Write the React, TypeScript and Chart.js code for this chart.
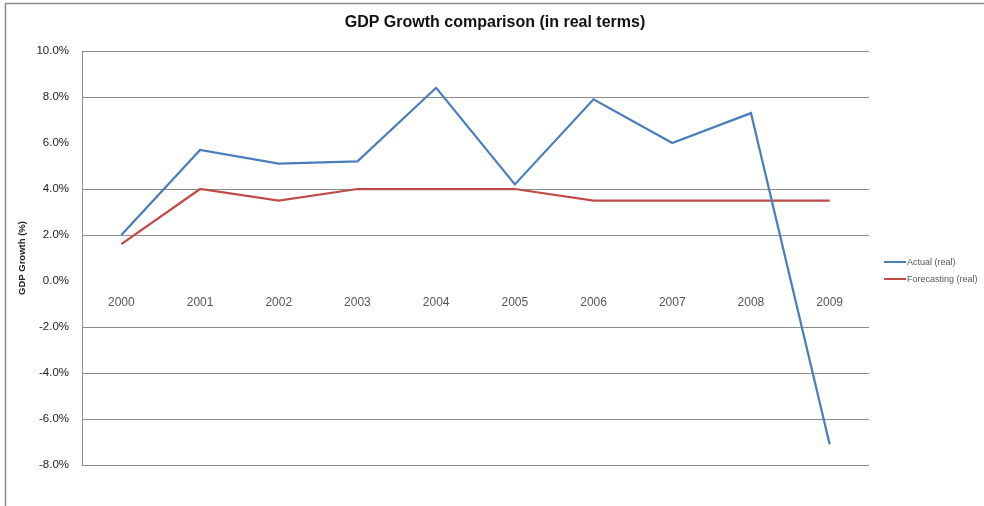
import React, { useEffect, useRef } from "react";
import { Chart, registerables } from "chart.js";

Chart.register(...registerables);

const chartTitle = "GDP Growth comparison (in real terms)";
const yAxisTitle = "GDP Growth (%)";
const categories = ["2000", "2001", "2002", "2003", "2004", "2005", "2006", "2007", "2008", "2009"];
const seriesNames = ["Actual (real)", "Forecasting (real)"];
const actual = [2.0, 5.7, 5.1, 5.2, 8.4, 4.2, 7.9, 6.0, 7.3, -7.1];
const forecast = [1.6, 4.0, 3.5, 4.0, 4.0, 4.0, 3.5, 3.5, 3.5, 3.5];
const yTickValues = [-8, -6, -4, -2, 0, 2, 4, 6, 8, 10];
const yTickLabels = ["-8.0%", "-6.0%", "-4.0%", "-2.0%", "0.0%", "2.0%", "4.0%", "6.0%", "8.0%", "10.0%"];
const hiddenGridValues = [6, 0];
const seriesColors = ["#4a7ebb", "#be4b48"];

const FONT = "'Liberation Sans', Arial, sans-serif";

const decorPlugin = {
  id: "decor",
  afterDraw(chart: any) {
    const ctx = chart.ctx;
    ctx.save();
    // outer border (top & left)
    ctx.strokeStyle = "#8a8a8a";
    ctx.lineWidth = 1.5;
    ctx.beginPath();
    ctx.moveTo(5.5, 506);
    ctx.lineTo(5.5, 3.5);
    ctx.lineTo(984, 3.5);
    ctx.stroke();
    // title
    ctx.fillStyle = "#111";
    ctx.font = `bold 16px ${FONT}`;
    ctx.textAlign = "center";
    ctx.textBaseline = "middle";
    ctx.fillText(chartTitle, 495, 23);
    // legend
    const ys = [262, 279];
    ctx.textAlign = "left";
    ctx.font = `9px ${FONT}`;
    chart.data.datasets.forEach((ds: any, i: number) => {
      ctx.strokeStyle = ds.borderColor;
      ctx.lineWidth = 2;
      ctx.beginPath();
      ctx.moveTo(884, ys[i]);
      ctx.lineTo(906, ys[i]);
      ctx.stroke();
      ctx.fillStyle = "#555";
      ctx.fillText(ds.label, 907, ys[i] + 0.5);
    });
    ctx.restore();
  },
};

export default function App() {
  const ref = useRef<HTMLCanvasElement>(null);
  useEffect(() => {
    if (!ref.current) return;
    const chart = new Chart(ref.current, {
      type: "line",
      data: {
        labels: categories,
        datasets: [
          {
            label: seriesNames[0],
            data: actual,
            borderColor: seriesColors[0],
            backgroundColor: seriesColors[0],
            borderWidth: 2.25,
            pointRadius: 0,
            tension: 0,
          },
          {
            label: seriesNames[1],
            data: forecast,
            borderColor: seriesColors[1],
            backgroundColor: seriesColors[1],
            borderWidth: 2.25,
            pointRadius: 0,
            tension: 0,
          },
        ],
      },
      options: {
        responsive: false,
        animation: false,
        layout: { padding: { top: 51, right: 115, bottom: 41, left: 0 } },
        plugins: {
          legend: { display: false },
          title: { display: false },
          tooltip: { enabled: false },
        },
        scales: {
          x: {
            type: "category",
            position: { y: 0 } as any,
            offset: true,
            grid: { display: false, drawTicks: false },
            border: { display: false },
            ticks: {
              color: "#555",
              font: { family: FONT, size: 12 },
              padding: 14,
              maxRotation: 0,
              autoSkip: false,
            },
          },
          y: {
            min: -8,
            max: 10,
            afterFit: (s: any) => {
              s.width = 82;
            },
            afterBuildTicks: (s: any) => {
              s.ticks = yTickValues.map((v) => ({ value: v }));
            },
            grid: {
              drawTicks: false,
              color: (c: any) =>
                c.tick && hiddenGridValues.includes(c.tick.value) ? "rgba(0,0,0,0)" : "#8c8c8c",
              lineWidth: 1,
            },
            border: { display: true, color: "#8c8c8c", width: 1 },
            ticks: {
              color: "#222",
              font: { family: FONT, size: 11.5 },
              padding: 13,
              callback: (v: any) => yTickLabels[yTickValues.indexOf(Number(v))],
            },
            title: {
              display: true,
              text: yAxisTitle,
              color: "#222",
              font: { family: FONT, size: 9.5, weight: "bold" },
              padding: { top: 17, bottom: 0 },
            },
          },
        },
      },
      plugins: [decorPlugin],
    });
    return () => chart.destroy();
  }, []);
  return (
    <div style={{ position: "fixed", left: 0, top: 0, width: 984, height: 506, background: "#fff" }}>
      <canvas ref={ref} width={984} height={506} style={{ display: "block" }} />
    </div>
  );
}
